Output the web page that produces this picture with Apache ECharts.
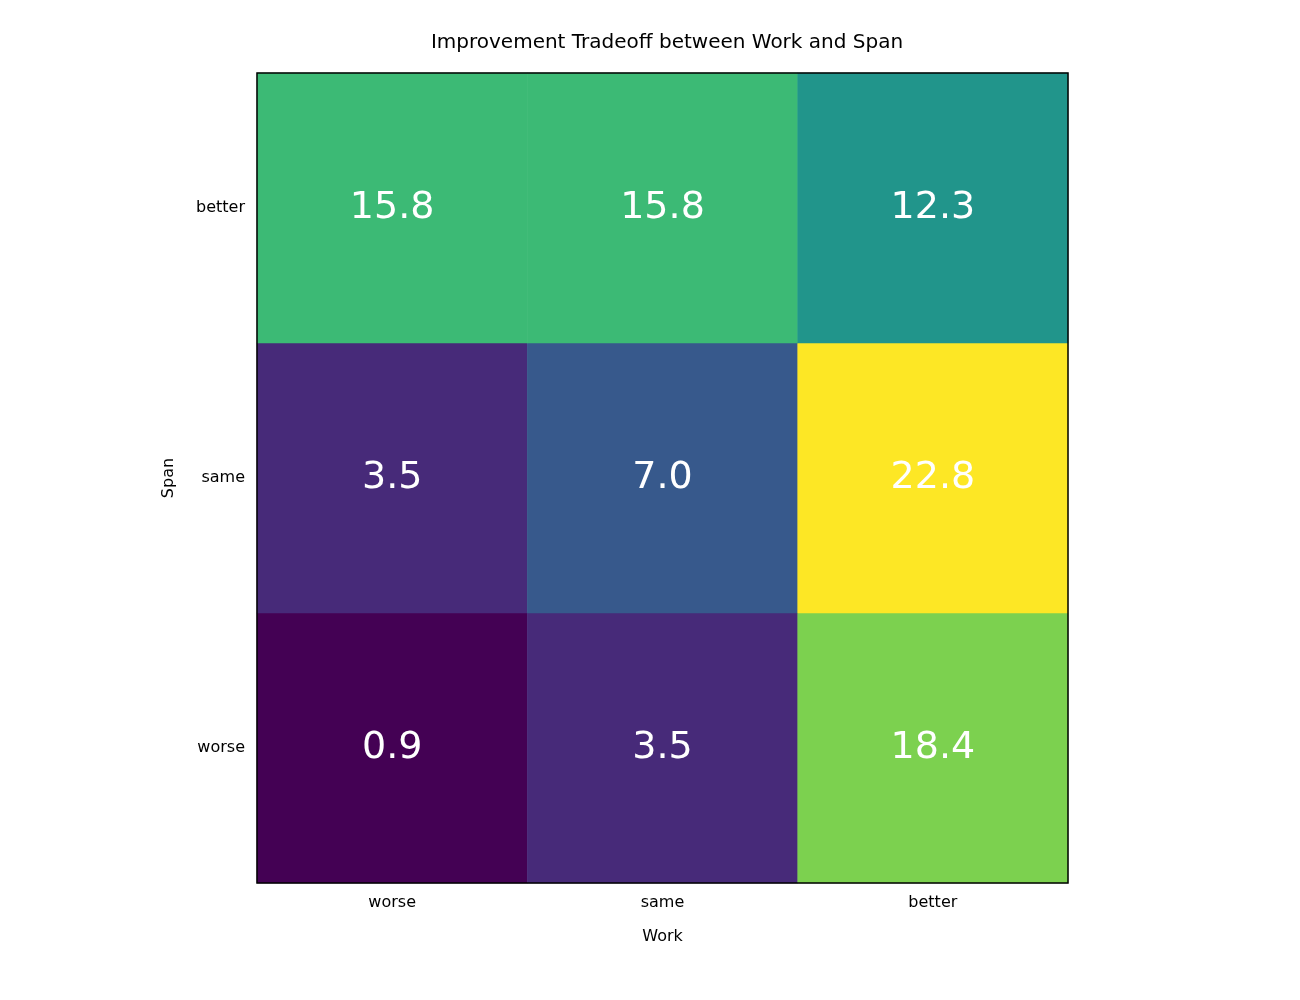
<!DOCTYPE html>
<html><head><meta charset="utf-8">
<script src="https://cdn.jsdelivr.net/npm/echarts@6/dist/echarts.min.js"></script>
<style>body{margin:0}#c{width:1300px;height:1000px}</style></head>
<body><div id="c"></div>
<script>
const workCats = ['worse','same','better'];
const spanCats = ['worse','same','better'];
// rows by span (worse, same, better), columns by work
const rowWorse = [0.9, 3.5, 18.4];
const rowSame = [3.5, 7.0, 22.8];
const rowBetter = [15.8, 15.8, 12.3];
const rows = [rowWorse, rowSame, rowBetter];
const data = [];
rows.forEach((r, yi) => r.forEach((v, xi) => data.push([xi, yi, v])));
const font = 'DejaVu Sans';
const chart = echarts.init(document.getElementById('c'));
chart.setOption({
  animation: false,
  title: {text: 'Improvement Tradeoff between Work and Span', left: 662, top: 28, textAlign: 'center',
    textStyle: {fontFamily: font, fontSize: 20, fontWeight: 'normal', color: '#000'}},
  grid: {left: 257, right: 232, top: 73, bottom: 117, show: true, borderColor: '#000', borderWidth: 1.5, z: 10},
  xAxis: {type: 'category', data: workCats, name: 'Work', nameLocation: 'middle', nameGap: 46,
    nameTextStyle: {fontFamily: font, fontSize: 16, color: '#000'},
    axisLine: {show: false}, axisTick: {alignWithLabel: true, length: 6, lineStyle: {color: '#000'}},
    axisLabel: {fontFamily: font, fontSize: 16, color: '#000', margin: 12}, splitArea: {show: false}},
  yAxis: {type: 'category', data: spanCats, name: 'Span', nameLocation: 'middle', nameGap: 80,
    nameTextStyle: {fontFamily: font, fontSize: 16, color: '#000'},
    axisLine: {show: false}, axisTick: {alignWithLabel: true, length: 6, lineStyle: {color: '#000'}},
    axisLabel: {fontFamily: font, fontSize: 16, color: '#000', margin: 12}},
  visualMap: {show: false, min: 0.9, max: 22.8, calculable: false, dimension: 2,
    inRange: {color: ['#440154','#482878','#3e4989','#31688e','#26828e','#1f9e89','#35b779','#6ece58','#b5de2b','#fde725']}},
  series: [{type: 'heatmap', data: data,
    label: {show: true, color: '#fff', fontFamily: font, fontSize: 38,
      formatter: p => p.value[2].toFixed(1)}}]
});
</script></body></html>
